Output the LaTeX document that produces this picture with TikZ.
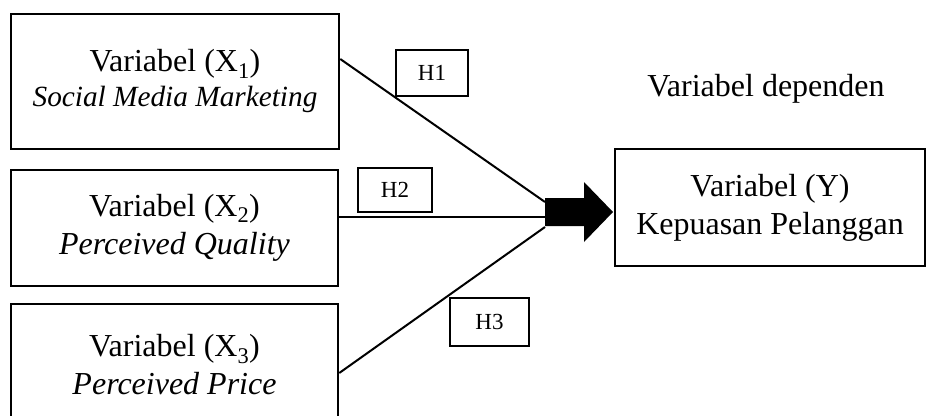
\documentclass[tikz,border=0pt]{standalone}
\usepackage{fontspec}
\setmainfont{Liberation Serif}
\begin{document}
\begin{tikzpicture}[x=1pt,y=-1pt,
  box/.style={draw, line width=2.5pt, align=center, font=\fontsize{32}{38}\selectfont, inner sep=0pt},
  hbox/.style={draw, fill=white, line width=2pt, font=\fontsize{23}{26}\selectfont, inner sep=0pt},
  conn/.style={line width=2pt}]
\useasboundingbox (0,0) rectangle (933,415);
\clip (0,0) rectangle (933,415);
% boxes
\node[box, minimum width=328pt, minimum height=135pt] (x1) at (175,81.5)
  {\raisebox{-4pt}{Variabel (X\textsubscript{1})}\\[1pt]{\fontsize{29.3}{36}\selectfont\textit{Social Media Marketing}}};
\node[box, minimum width=327pt, minimum height=116pt] (x2) at (174.5,228)
  {Variabel (X\textsubscript{2})\\\textit{Perceived Quality}};
\node[box, minimum width=327pt, minimum height=122pt] (x3) at (174.5,365)
  {Variabel (X\textsubscript{3})\\\textit{Perceived Price}};
\node[box, minimum width=310pt, minimum height=117pt] (y) at (770,207.5)
  {Variabel (Y)\\Kepuasan Pelanggan};
\node[font=\fontsize{32}{38}\selectfont, anchor=base, inner sep=0pt] (dep) at (766,96) {Variabel dependen};
% connector ends
\path (x1.east) ++(0,-22.5) coordinate (s1);
\path (x2.east) ++(0,-11) coordinate (s2);
\path (x3.east) ++(0,8) coordinate (s3);
\coordinate (t1) at (545,202);
\coordinate (t2) at (545,217);
\coordinate (t3) at (545,227);
\draw[conn] (s1) -- (t1);
\draw[conn] (s2) -- (t2);
\draw[conn] (s3) -- (t3);
% block arrow
\coordinate (tip) at (613,212);
\fill (tip) -- ++(-29,-30) -- ++(0,16) -- ++(-39,0) -- ++(0,28) -- ++(39,0) -- ++(0,16) -- cycle;
% hypothesis labels
\node[hbox, minimum width=72pt, minimum height=46pt] (h1) at (432,73) {H1};
\node[hbox, minimum width=74pt, minimum height=44pt] (h2) at (395,190) {H2};
\node[hbox, minimum width=79pt, minimum height=48pt] (h3) at (489.5,322) {H3};
\end{tikzpicture}
\end{document}
